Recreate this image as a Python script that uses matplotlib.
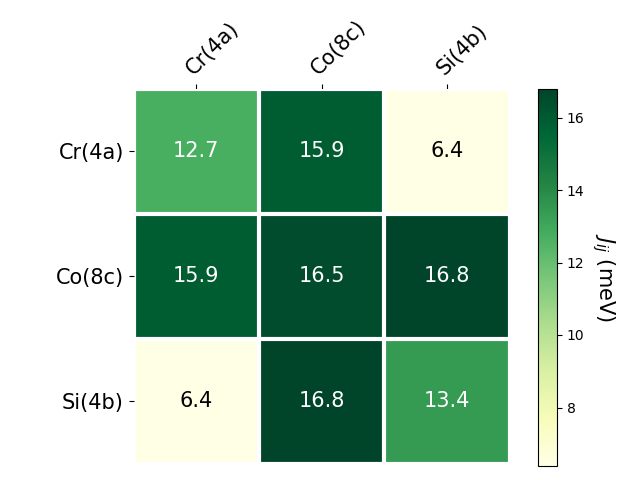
import numpy as np
import matplotlib
matplotlib.use("Agg")
import matplotlib.pyplot as plt

# sites and exchange values (meV)
sites = ["Cr(4a)", "Co(8c)", "Si(4b)"]
row0 = [12.7, 15.9, 6.4]
row1 = [15.9, 16.5, 16.8]
row2 = [6.4, 16.8, 13.4]

J = np.array([row0, row1, row2])

fig = plt.figure(figsize=(6.4, 4.8), dpi=100)
ax = fig.add_axes([133.5 / 640, 16.5 / 480, 376 / 640, 375 / 480])
cax = fig.add_axes([538 / 640, 14.5 / 480, 19 / 640, 377 / 480])

im = ax.imshow(J, cmap="YlGn", aspect="auto")
cbar = fig.colorbar(im, cax=cax)
cbar.ax.set_ylabel(r"$J_{ij}$ (meV)", rotation=-90, va="bottom", fontsize=15)

ax.set_xticks(np.arange(len(sites)))
ax.set_yticks(np.arange(len(sites)))
ax.set_xticklabels(sites, fontsize=15)
ax.set_yticklabels(sites, fontsize=15)
ax.tick_params(top=True, bottom=False, labeltop=True, labelbottom=False)
plt.setp(ax.get_xticklabels(), rotation=45, ha="left", rotation_mode="anchor")

for s in ax.spines.values():
    s.set_visible(False)
ax.set_xticks(np.arange(len(sites) + 1) - 0.5, minor=True)
ax.set_yticks(np.arange(len(sites) + 1) - 0.5, minor=True)
ax.grid(which="minor", color="w", linestyle="-", linewidth=3)
ax.tick_params(which="minor", bottom=False, left=False, top=False)

thresh = (J.max() + J.min()) / 2
for i in range(len(sites)):
    for j in range(len(sites)):
        c = "white" if J[i, j] > thresh else "black"
        ax.text(j, i, f"{J[i, j]:.1f}", ha="center", va="center", color=c, fontsize=15)

fig.savefig("out.png")
